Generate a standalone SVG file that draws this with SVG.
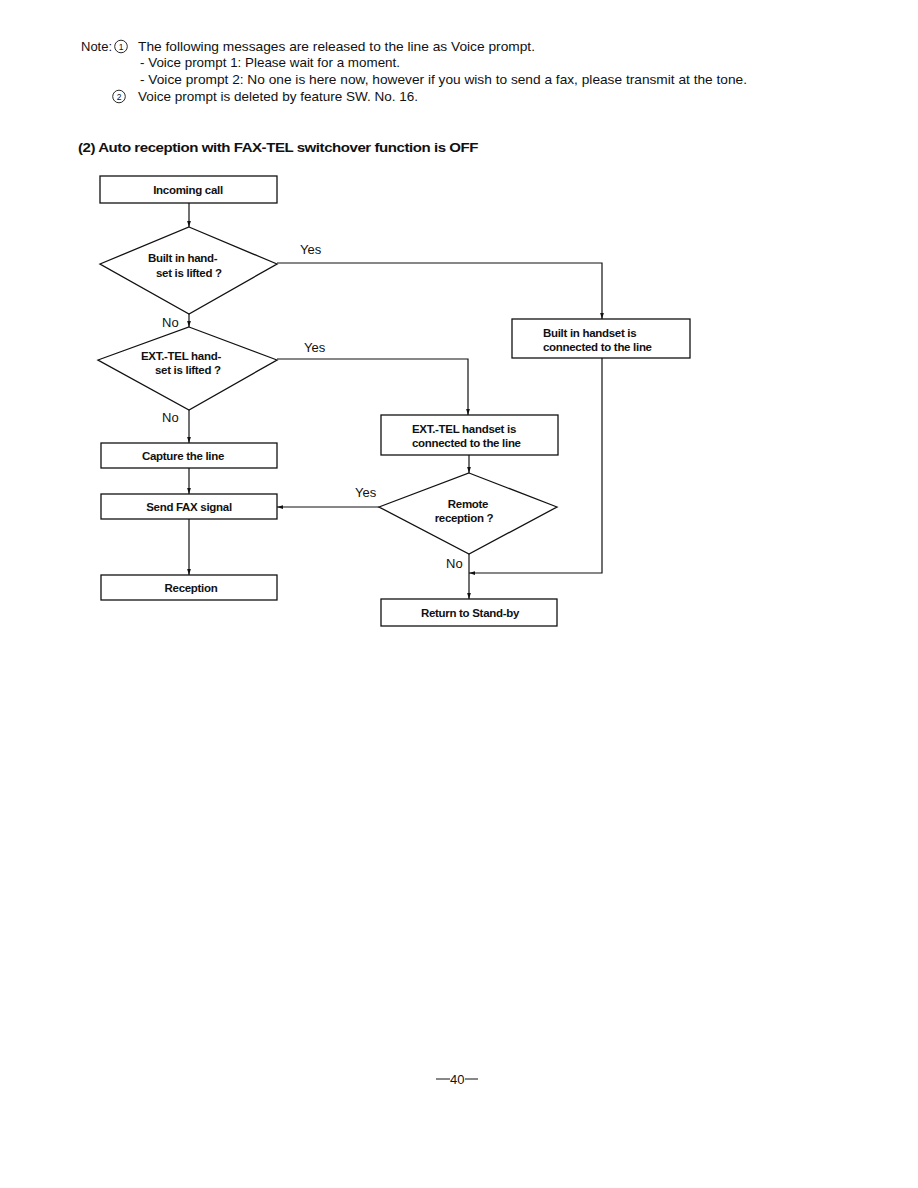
<svg xmlns="http://www.w3.org/2000/svg" width="918" height="1188" viewBox="0 0 918 1188">
<style>
.t{font-family:"Liberation Sans",Arial,sans-serif;font-size:13px;fill:#111}
.n{font-family:"Liberation Sans",Arial,sans-serif;font-size:11.5px;font-weight:bold;fill:#111;letter-spacing:-0.3px}
.h{font-family:"Liberation Sans",Arial,sans-serif;font-size:13.5px;font-weight:bold;fill:#111;letter-spacing:-0.4px}
.l{font-family:"Liberation Sans",Arial,sans-serif;font-size:13px;fill:#111}
.s{fill:#fff;stroke:#111;stroke-width:1.3}
.c{fill:none;stroke:#111;stroke-width:1.2}
</style>
<defs>
<marker id="a" viewBox="0 0 8 8" refX="8" refY="4" markerWidth="6" markerHeight="6" orient="auto" markerUnits="userSpaceOnUse">
<path d="M0,1.5 L8,4 L0,6.5 Z" fill="#111"/>
</marker>
</defs>
<rect width="918" height="1188" fill="#fff"/>
<g id="notes">
<text class="t" x="81" y="51">Note:</text>
<circle cx="121" cy="46.5" r="6.3" fill="none" stroke="#111" stroke-width="0.9"/>
<text x="121" y="50" font-family="Liberation Sans,Arial,sans-serif" font-size="8.5" text-anchor="middle" fill="#111">1</text>
<text class="t" x="138" y="51" textLength="397" lengthAdjust="spacingAndGlyphs">The following messages are released to the line as Voice prompt.</text>
<text class="t" x="140" y="67" textLength="260" lengthAdjust="spacingAndGlyphs">- Voice prompt 1: Please wait for a moment.</text>
<text class="t" x="140" y="84" textLength="607" lengthAdjust="spacingAndGlyphs">- Voice prompt 2: No one is here now, however if you wish to send a fax, please transmit at the tone.</text>
<circle cx="119" cy="96.5" r="6.3" fill="none" stroke="#111" stroke-width="0.9"/>
<text x="119" y="100" font-family="Liberation Sans,Arial,sans-serif" font-size="8.5" text-anchor="middle" fill="#111">2</text>
<text class="t" x="138" y="101" textLength="280" lengthAdjust="spacingAndGlyphs">Voice prompt is deleted by feature SW. No. 16.</text>
</g>
<text class="h" x="78" y="152" textLength="400" lengthAdjust="spacingAndGlyphs">(2) Auto reception with FAX-TEL switchover function is OFF</text>

<g id="connectors">
<line class="c" x1="189" y1="203" x2="189" y2="227" marker-end="url(#a)"/>
<line class="c" x1="189" y1="314" x2="189" y2="327" marker-end="url(#a)"/>
<line class="c" x1="189" y1="410" x2="189" y2="443" marker-end="url(#a)"/>
<line class="c" x1="189" y1="468" x2="189" y2="494" marker-end="url(#a)"/>
<line class="c" x1="189" y1="519" x2="189" y2="575" marker-end="url(#a)"/>
<polyline class="c" points="277,263 602,263 602,319" marker-end="url(#a)"/>
<polyline class="c" points="277,359 468,359 468,415" marker-end="url(#a)"/>
<line class="c" x1="469" y1="455" x2="469" y2="473" marker-end="url(#a)"/>
<line class="c" x1="379" y1="507" x2="277" y2="507" marker-end="url(#a)"/>
<line class="c" x1="469" y1="554" x2="469" y2="599" marker-end="url(#a)"/>
<polyline class="c" points="602,358 602,573 469,573" marker-end="url(#a)"/>
<text class="l" x="300" y="254">Yes</text>
<text class="l" x="162" y="327">No</text>
<text class="l" x="304" y="352">Yes</text>
<text class="l" x="162" y="422">No</text>
<text class="l" x="355" y="497">Yes</text>
<text class="l" x="446" y="568">No</text>
</g>

<g id="incoming">
<rect class="s" x="100" y="176" width="177" height="27"/>
<text class="n" x="188" y="194" text-anchor="middle">Incoming call</text>
</g>
<g id="builtin-lifted">
<polygon class="s" points="189,227 277,264 189,314 100,264"/>
<text class="n" x="148" y="262">Built in hand-</text>
<text class="n" x="156" y="277">set is lifted ?</text>
</g>
<g id="ext-lifted">
<polygon class="s" points="189,327 277,360 189,410 98,360"/>
<text class="n" x="141" y="360">EXT.-TEL hand-</text>
<text class="n" x="155" y="374">set is lifted ?</text>
</g>
<g id="capture">
<rect class="s" x="101" y="443" width="176" height="25"/>
<text class="n" x="183" y="460" text-anchor="middle">Capture the line</text>
</g>
<g id="sendfax">
<rect class="s" x="101" y="494" width="176" height="25"/>
<text class="n" x="189" y="511" text-anchor="middle">Send FAX signal</text>
</g>
<g id="reception">
<rect class="s" x="101" y="575" width="176" height="25"/>
<text class="n" x="191" y="592" text-anchor="middle">Reception</text>
</g>
<g id="builtin-connected">
<rect class="s" x="512" y="319" width="178" height="39"/>
<text class="n" x="543" y="337">Built in handset is</text>
<text class="n" x="543" y="351">connected to the line</text>
</g>
<g id="ext-connected">
<rect class="s" x="381" y="415" width="177" height="40"/>
<text class="n" x="412" y="433">EXT.-TEL handset is</text>
<text class="n" x="412" y="447">connected to the line</text>
</g>
<g id="remote">
<polygon class="s" points="469,473 557,507 469,554 379,507"/>
<text class="n" x="468" y="508" text-anchor="middle">Remote</text>
<text class="n" x="464" y="522" text-anchor="middle">reception ?</text>
</g>
<g id="standby">
<rect class="s" x="381" y="599" width="176" height="27"/>
<text class="n" x="470" y="617" text-anchor="middle">Return to Stand-by</text>
</g>
<g id="page">
<line x1="436" y1="1079" x2="450" y2="1079" stroke="#111" stroke-width="1"/>
<text class="t" x="450" y="1084" font-size="14">40</text>
<line x1="465" y1="1079" x2="478" y2="1079" stroke="#111" stroke-width="1"/>
</g>
</svg>
